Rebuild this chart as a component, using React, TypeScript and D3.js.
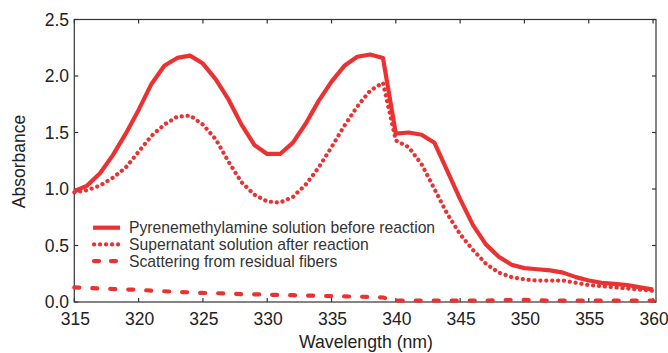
import React from "react";
import * as d3 from "d3";

const wavelengths = [315,316,317,318,319,320,321,322,323,324,325,326,327,328,329,330,331,332,333,334,335,336,337,338,339,340,341,342,343,344,345,346,347,348,349,350,351,352,353,354,355,356,357,358,359,360];

const beforeReaction = [0.98,1.03,1.14,1.30,1.49,1.70,1.93,2.09,2.16,2.18,2.11,1.97,1.79,1.57,1.39,1.31,1.31,1.41,1.58,1.78,1.95,2.09,2.17,2.19,2.16,1.49,1.50,1.48,1.41,1.16,0.91,0.68,0.51,0.40,0.33,0.30,0.29,0.28,0.26,0.22,0.19,0.17,0.16,0.15,0.13,0.11];

const afterReaction = [0.97,0.99,1.03,1.10,1.19,1.33,1.47,1.57,1.64,1.65,1.57,1.44,1.24,1.06,0.95,0.89,0.88,0.93,1.04,1.19,1.37,1.56,1.73,1.87,1.94,1.43,1.37,1.22,1.00,0.78,0.60,0.46,0.34,0.26,0.22,0.20,0.19,0.19,0.19,0.17,0.15,0.14,0.13,0.12,0.11,0.10];

const scattering = [0.13,0.125,0.12,0.115,0.11,0.11,0.10,0.095,0.09,0.085,0.08,0.078,0.075,0.07,0.068,0.065,0.062,0.06,0.057,0.055,0.052,0.05,0.047,0.045,0.04,0.012,0.012,0.012,0.012,0.012,0.012,0.012,0.012,0.015,0.018,0.018,0.015,0.012,0.012,0.012,0.012,0.012,0.012,0.012,0.012,0.012];

const xTicks = [315,320,325,330,335,340,345,350,355,360];
const yTicks = [0,0.5,1.0,1.5,2.0,2.5];
const legendLabels = [
  "Pyrenemethylamine solution before reaction",
  "Supernatant solution after reaction",
  "Scattering from residual fibers",
];

const RED = "#ea3232";
const AXIS = "#333";
const FONT = "'Liberation Sans', Arial, Helvetica, sans-serif";

export default function App() {
  const W = 668, H = 353;
  const left = 74.3, right = 656, top = 19.5, bottom = 302;
  const x = d3.scaleLinear().domain([315, 360.23]).range([left, right]);
  const y = d3.scaleLinear().domain([0, 2.5]).range([bottom, top]);

  const mk = (vals: number[]) =>
    d3.line<number>().x((_, i) => x(wavelengths[i])).y((d) => y(d))(vals) as string;

  const tick = 4;
  const styles = [
    { w: 4.2, dash: undefined as string | undefined, cap: "butt" as const },
    { w: 4.2, dash: "0.1 5.8", cap: "round" as const },
    { w: 4.2, dash: "5 13", cap: "round" as const },
  ];
  const legendDash = [undefined, "0.1 5.9", "5 12"];

  return (
    <svg width={W} height={H} style={{ position: "absolute", left: 0, top: 0, background: "#fff" }}>
      <rect x={left} y={top} width={right - left} height={bottom - top} fill="none" stroke={AXIS} strokeWidth={1.2} />
      {xTicks.map((t) => (
        <g key={"x" + t}>
          <line x1={x(t)} x2={x(t)} y1={bottom} y2={bottom - tick} stroke={AXIS} strokeWidth={1.2} />
          <line x1={x(t)} x2={x(t)} y1={top} y2={top + tick} stroke={AXIS} strokeWidth={1.2} />
          <text x={x(t) + 1} y={324.5} textAnchor="middle" fontSize={17.5} fontFamily={FONT} fill="#222">
            {t}
          </text>
        </g>
      ))}
      {yTicks.map((t) => (
        <g key={"y" + t}>
          <line x1={left} x2={left + tick} y1={y(t)} y2={y(t)} stroke={AXIS} strokeWidth={1.2} />
          <line x1={right} x2={right - tick} y1={y(t)} y2={y(t)} stroke={AXIS} strokeWidth={1.2} />
          <text x={69} y={y(t)} dy="0.36em" textAnchor="end" fontSize={17.5} fontFamily={FONT} fill="#222">
            {t.toFixed(1)}
          </text>
        </g>
      ))}
      <text x={366} y={348} textAnchor="middle" fontSize={17.7} fontFamily={FONT} fill="#222">
        Wavelength (nm)
      </text>
      <text transform="translate(25,161.5) rotate(-90)" textAnchor="middle" fontSize={17.5} fontFamily={FONT} fill="#222">
        Absorbance
      </text>

      {[beforeReaction, afterReaction, scattering].map((vals, i) => (
        <path
          key={"s" + i}
          d={mk(vals)}
          fill="none"
          stroke={RED}
          strokeWidth={styles[i].w}
          strokeDasharray={styles[i].dash}
          strokeLinecap={styles[i].cap}
          strokeLinejoin="round"
        />
      ))}

      {legendLabels.map((lab, i) => {
        const ly = 227.7 + i * 16.7;
        return (
          <g key={"l" + i}>
            <line
              x1={i === 0 ? 93 : 94}
              x2={120}
              y1={ly}
              y2={ly}
              stroke={RED}
              strokeWidth={4.2}
              strokeDasharray={legendDash[i]}
              strokeLinecap={i === 0 ? "butt" : "round"}
            />
            <text x={129} y={ly} dy="0.36em" fontSize={15.7} fontFamily={FONT} fill="#333">
              {lab}
            </text>
          </g>
        );
      })}
    </svg>
  );
}
